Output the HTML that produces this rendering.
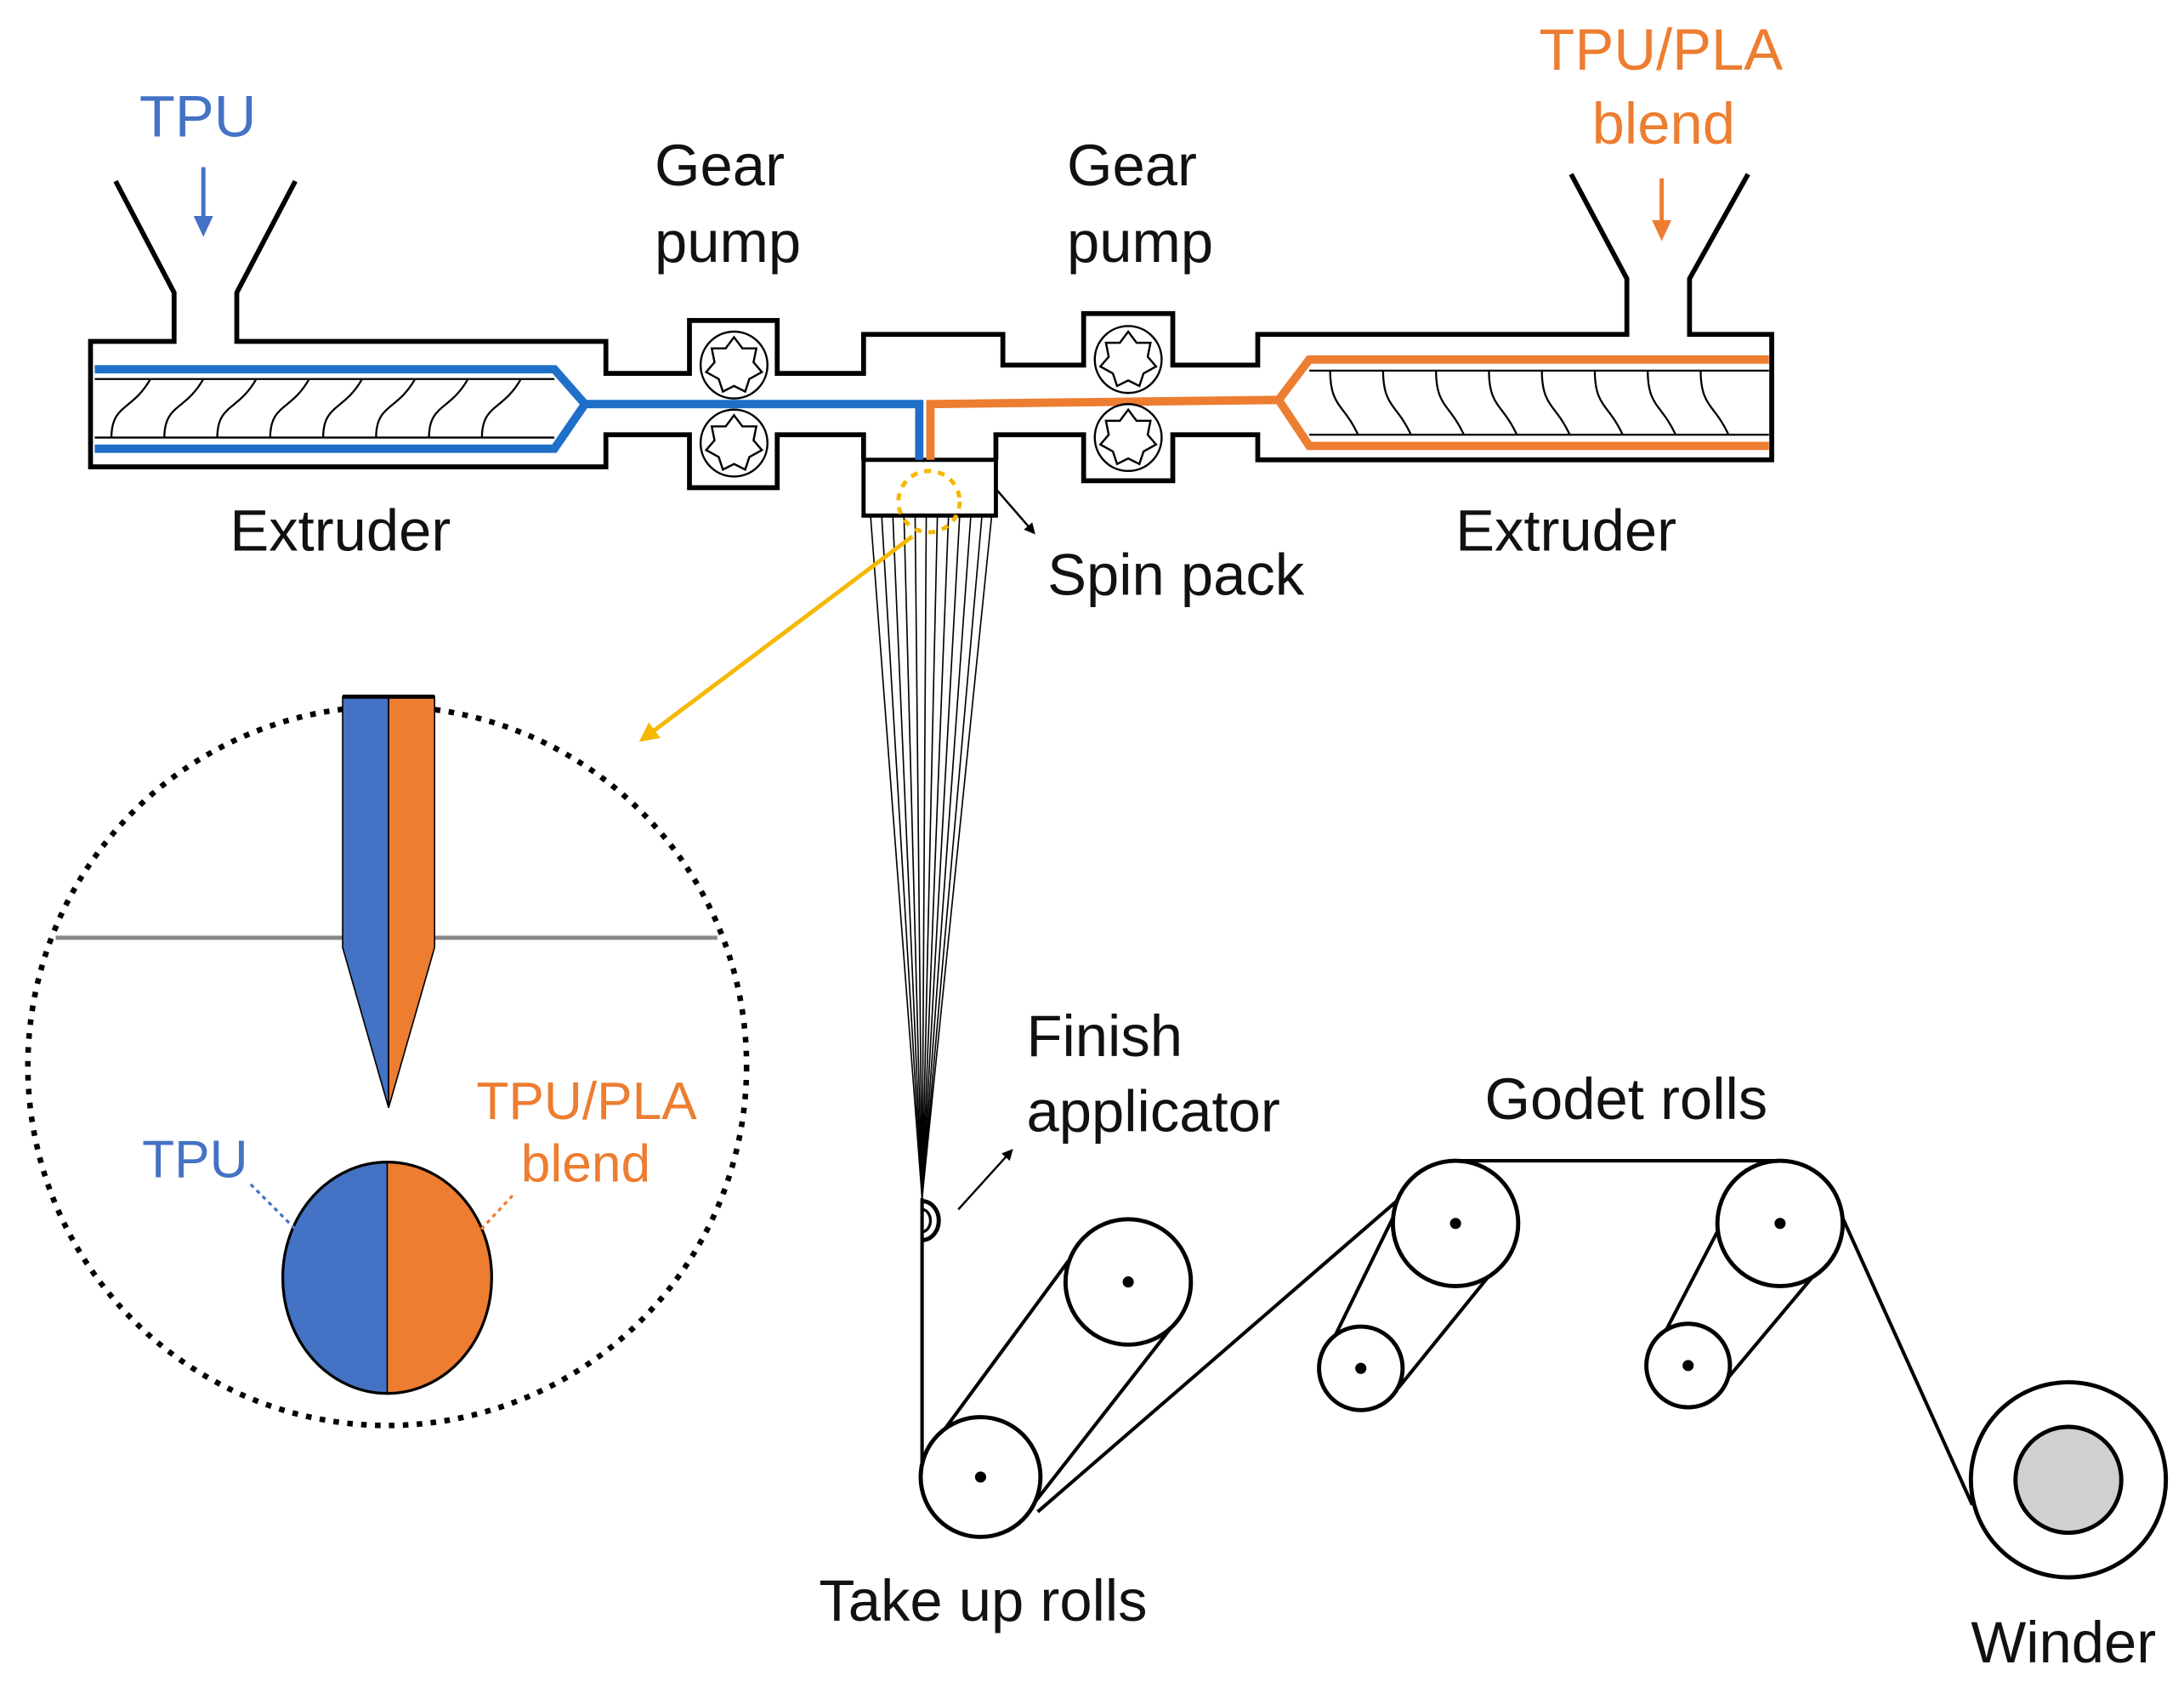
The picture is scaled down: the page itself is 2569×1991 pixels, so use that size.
<!DOCTYPE html>
<html><head><meta charset="utf-8"><style>
html,body{margin:0;padding:0;background:#fff;}
svg{display:block;}
text{font-family:"Liberation Sans",Arial,sans-serif;font-size:42px;fill:#111;}
</style></head><body>
<svg width="2569" height="1991" viewBox="0 0 1568 1215" preserveAspectRatio="none" xmlns="http://www.w3.org/2000/svg">
<defs>
<marker id="ab" markerWidth="8" markerHeight="8" refX="6" refY="4" orient="auto" markerUnits="userSpaceOnUse"><path d="M0,0 L8,4 L0,8z" fill="#000"/></marker>
<marker id="ay" markerWidth="14" markerHeight="14" refX="10" refY="7" orient="auto" markerUnits="userSpaceOnUse"><path d="M0,0 L14,7 L0,14z" fill="#f5b800"/></marker>
<g id="gear"><circle r="24" fill="#fff" stroke="#000" stroke-width="1.5"/><path d="M0,-20 L6,-12 L16,-12 L14,-2 L20,5 L11,10 L8,19 L0,15 L-8,19 L-11,10 L-20,5 L-14,-2 L-16,-12 L-6,-12Z" fill="none" stroke="#000" stroke-width="1.5"/></g>
</defs>

<!-- labels -->
<text x="100" y="98" style="fill:#4472c4">TPU</text>
<text x="1105" y="50" style="fill:#ed7d31">TPU/PLA</text>
<text x="1143" y="103" style="fill:#ed7d31">blend</text>
<text x="470" y="133">Gear</text><text x="470" y="188">pump</text>
<text x="766" y="133">Gear</text><text x="766" y="188">pump</text>
<text x="165" y="395">Extruder</text>
<text x="1045" y="395">Extruder</text>
<text x="752" y="427">Spin pack</text>
<text x="737" y="758">Finish</text>
<text x="737" y="812">applicator</text>
<text x="1066" y="803">Godet rolls</text>
<text x="588" y="1163">Take up rolls</text>
<text x="1415" y="1193">Winder</text>

<!-- feed arrows -->
<line x1="146" y1="120" x2="146" y2="160" stroke="#4472c4" stroke-width="3"/><path d="M139,155 L146,170 L153,155Z" fill="#4472c4"/>
<line x1="1193" y1="128" x2="1193" y2="163" stroke="#ed7d31" stroke-width="3"/><path d="M1186,158 L1193,173 L1200,158Z" fill="#ed7d31"/>

<!-- housing -->
<g fill="none" stroke="#000" stroke-width="3.5">
<path d="M83,130 L125,210 L125,245 L65,245 L65,335 L435,335 L435,312 L495,312 L495,350 L558,350 L558,312 L620,312 L620,330"/>
<path d="M212,130 L170,210 L170,245 L435,245 L435,268 L495,268 L495,230 L558,230 L558,268 L620,268 L620,240 L720,240 L720,262 L778,262 L778,225 L842,225 L842,262 L903,262 L903,240 L1168,240 L1168,200 L1128,125"/>
<path d="M1255,125 L1213,200 L1213,240 L1272,240 L1272,330 L903,330 L903,312 L842,312 L842,345 L778,345 L778,312 L715,312 L715,330"/>
</g>
<rect x="620" y="330" width="95" height="40" fill="#fff" stroke="#000" stroke-width="3"/>

<!-- screws -->
<g fill="none" stroke="#000" stroke-width="1.4">
<line x1="68" y1="272" x2="398" y2="272"/><line x1="68" y1="314" x2="398" y2="314"/>
<path d="M80,314 C80,290 95,295 108,272"/><path d="M118,314 C118,290 133,295 146,272"/><path d="M156,314 C156,290 171,295 184,272"/><path d="M194,314 C194,290 209,295 222,272"/><path d="M232,314 C232,290 247,295 260,272"/><path d="M270,314 C270,290 285,295 298,272"/><path d="M308,314 C308,290 323,295 336,272"/><path d="M346,314 C346,290 361,295 374,272"/>
<line x1="940" y1="266" x2="1270" y2="266"/><line x1="940" y1="312" x2="1270" y2="312"/>
<path d="M955,266 C955,292 965,290 975,312"/><path d="M993,266 C993,292 1003,290 1013,312"/><path d="M1031,266 C1031,292 1041,290 1051,312"/><path d="M1069,266 C1069,292 1079,290 1089,312"/><path d="M1107,266 C1107,292 1117,290 1127,312"/><path d="M1145,266 C1145,292 1155,290 1165,312"/><path d="M1183,266 C1183,292 1193,290 1203,312"/><path d="M1221,266 C1221,292 1231,290 1241,312"/>
</g>

<!-- flows -->
<path d="M68,265 L398,265 L420,290 L660,290 L660,330" fill="none" stroke="#1f6fc8" stroke-width="6"/>
<path d="M68,322 L398,322 L420,290" fill="none" stroke="#1f6fc8" stroke-width="6"/>
<path d="M1270,258 L940,258 L918,287 L668,290 L668,330" fill="none" stroke="#ed7d31" stroke-width="6"/>
<path d="M1270,320 L940,320 L918,287" fill="none" stroke="#ed7d31" stroke-width="6"/>

<use href="#gear" x="527" y="262"/><use href="#gear" x="527" y="318"/>
<use href="#gear" x="810" y="258"/><use href="#gear" x="810" y="314"/>

<!-- fibers -->
<g stroke="#000" stroke-width="1">
<line x1="625" y1="370" x2="662" y2="860"/><line x1="633" y1="370" x2="662" y2="860"/><line x1="641" y1="370" x2="662" y2="860"/><line x1="649" y1="370" x2="662" y2="860"/><line x1="657" y1="370" x2="662" y2="860"/><line x1="665" y1="370" x2="662" y2="860"/><line x1="673" y1="370" x2="662" y2="860"/><line x1="681" y1="370" x2="662" y2="860"/><line x1="689" y1="370" x2="662" y2="860"/><line x1="697" y1="370" x2="662" y2="860"/><line x1="705" y1="370" x2="662" y2="860"/><line x1="712" y1="370" x2="662" y2="860"/>
</g>
<circle cx="667" cy="360" r="22" fill="none" stroke="#f5b800" stroke-width="3" stroke-dasharray="5,5"/>
<line x1="655" y1="385" x2="462" y2="530" stroke="#f5b800" stroke-width="3" marker-end="url(#ay)"/>
<line x1="716" y1="352" x2="742" y2="382" stroke="#000" stroke-width="1.5" marker-end="url(#ab)"/>

<!-- zoom circle -->
<circle cx="278" cy="765" r="258" fill="none" stroke="#000" stroke-width="4" stroke-dasharray="4,6"/>
<line x1="40" y1="673" x2="515" y2="673" stroke="#888" stroke-width="3"/>
<path d="M246,500 L279,500 L279,795 L246,680Z" fill="#4472c4" stroke="#000" stroke-width="1"/>
<path d="M279,500 L312,500 L312,680 L279,795Z" fill="#ed7d31" stroke="#000" stroke-width="1"/>
<line x1="246" y1="500" x2="312" y2="500" stroke="#000" stroke-width="3"/>
<path d="M278,834 A75,83 0 0 0 278,1000Z" fill="#4472c4"/>
<path d="M278,834 A75,83 0 0 1 278,1000Z" fill="#ed7d31"/>
<ellipse cx="278" cy="917" rx="75" ry="83" fill="none" stroke="#000" stroke-width="2"/>
<line x1="278" y1="834" x2="278" y2="1000" stroke="#000" stroke-width="1"/>
<line x1="180" y1="850" x2="218" y2="888" stroke="#4472c4" stroke-width="2" stroke-dasharray="3,3"/>
<line x1="368" y1="858" x2="340" y2="888" stroke="#ed7d31" stroke-width="2" stroke-dasharray="3,3"/>
<text x="102" y="845" style="fill:#4472c4;font-size:38px">TPU</text>
<text x="342" y="803" style="fill:#ed7d31;font-size:38px">TPU/PLA</text>
<text x="374" y="848" style="fill:#ed7d31;font-size:38px">blend</text>

<!-- finish applicator -->
<path d="M662,862 A12,14 0 0 1 662,890" fill="none" stroke="#000" stroke-width="3"/>
<path d="M662,868 A6,8 0 0 1 662,884" fill="none" stroke="#000" stroke-width="2"/>
<line x1="688" y1="868" x2="726" y2="826" stroke="#000" stroke-width="1.5" marker-end="url(#ab)"/>

<!-- rolls -->
<g fill="none" stroke="#000" stroke-width="2.5">
<line x1="662" y1="860" x2="662" y2="1058"/>
<line x1="664" y1="1045" x2="767" y2="905"/>
<line x1="743" y1="1078" x2="843" y2="950"/>
<line x1="745" y1="1085" x2="1005" y2="860"/>
<line x1="1002" y1="870" x2="949" y2="978"/>
<line x1="1072" y1="912" x2="1004" y2="996"/>
<line x1="1045" y1="833" x2="1278" y2="833"/>
<line x1="1235" y1="880" x2="1184" y2="978"/>
<line x1="1305" y1="912" x2="1238" y2="992"/>
<line x1="1322" y1="872" x2="1416" y2="1080"/>
</g>
<g fill="#fff" stroke="#000" stroke-width="3">
<circle cx="704" cy="1060" r="43"/><circle cx="810" cy="920" r="45"/>
<circle cx="1045" cy="878" r="45"/><circle cx="977" cy="982" r="30"/>
<circle cx="1278" cy="878" r="45"/><circle cx="1212" cy="980" r="30"/>
<circle cx="1485" cy="1062" r="70"/>
</g>
<circle cx="1485" cy="1062" r="38" fill="#d0d0d0" stroke="#000" stroke-width="3"/>
<g fill="#000"><circle cx="704" cy="1060" r="4"/><circle cx="810" cy="920" r="4"/><circle cx="1045" cy="878" r="4"/><circle cx="977" cy="982" r="4"/><circle cx="1278" cy="878" r="4"/><circle cx="1212" cy="980" r="4"/></g>
</svg>
</body></html>
